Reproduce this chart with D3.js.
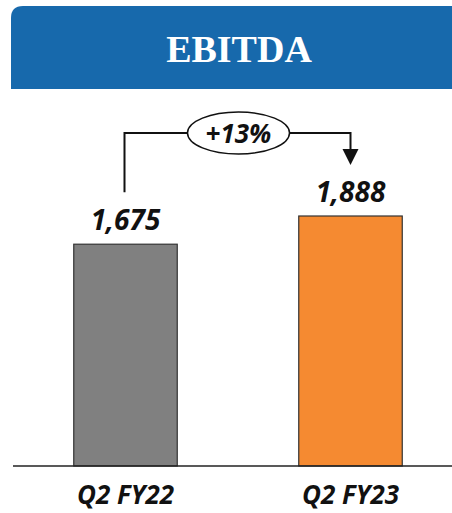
<!DOCTYPE html>
<html>
<head>
<meta charset="utf-8">
<script src="https://cdn.jsdelivr.net/npm/d3@7"></script>
<style>
  body { margin: 0; background: #fff; }
  svg { display: block; }
</style>
</head>
<body>
<div id="chart"></div>
<script>
const categories = ["Q2 FY22", "Q2 FY23"];
const values = [1675, 1888];
const barColors = ["#808080", "#F58A31"];
const growthLabel = "+13%";
const title = "EBITDA";

const width = 452, height = 513;
const svg = d3.select("#chart").append("svg")
  .attr("width", width).attr("height", height);

// header banner
svg.append("path")
  .attr("d", `M11,18 Q11,6 23,6 L452,6 L452,89 L11,89 Z`)
  .attr("fill", "#1769AC");
svg.append("text")
  .attr("x", 239).attr("y", 62)
  .attr("text-anchor", "middle")
  .attr("fill", "#fff")
  .style("font-family", "'Liberation Serif', 'DejaVu Serif', serif")
  .style("font-weight", "bold")
  .style("font-size", "38px")
  .text(title);

const x = d3.scaleBand()
  .domain(categories)
  .range([13, 463])
  .paddingInner(0.54)
  .paddingOuter(0.27);

const y = d3.scaleLinear()
  .domain([0, 1888])
  .range([466, 216]);

svg.selectAll("rect.bar")
  .data(values)
  .join("rect")
  .attr("class", "bar")
  .attr("x", (d, i) => x(categories[i]))
  .attr("y", d => y(d))
  .attr("width", x.bandwidth())
  .attr("height", d => y(0) - y(d))
  .attr("fill", (d, i) => barColors[i])
  .attr("stroke", "#333")
  .attr("stroke-width", 1.2);

// baseline
svg.append("line")
  .attr("x1", 13).attr("x2", 452)
  .attr("y1", y(0)).attr("y2", y(0))
  .attr("stroke", "#222").attr("stroke-width", 1.5);

const labelFont = "'Open Sans', 'DejaVu Sans', sans-serif";

svg.selectAll("text.val")
  .data(values)
  .join("text")
  .attr("class", "val")
  .attr("x", (d, i) => x(categories[i]) + x.bandwidth() / 2)
  .attr("y", d => y(d) - 14)
  .attr("text-anchor", "middle")
  .style("font-family", labelFont)
  .style("font-weight", "bold")
  .style("font-style", "italic")
  .style("font-size", "28px")
  .attr("fill", "#111")
  .text(d => d3.format(",")(d));

svg.selectAll("text.cat")
  .data(categories)
  .join("text")
  .attr("class", "cat")
  .attr("x", d => x(d) + x.bandwidth() / 2)
  .attr("y", 504)
  .attr("text-anchor", "middle")
  .style("font-family", labelFont)
  .style("font-weight", "bold")
  .style("font-style", "italic")
  .style("font-size", "26px")
  .attr("fill", "#111")
  .text(d => d);

// growth connector
const x0 = x(categories[0]) + x.bandwidth() / 2 - 1;
const x1 = x(categories[1]) + x.bandwidth() / 2;
const topY = 133;
const cx = (x0 + x1) / 2 + 1;
svg.append("path")
  .attr("d", `M${x0},${y(values[0]) - 52} L${x0},${topY} L${x1},${topY} L${x1},${y(values[1]) - 66}`)
  .attr("fill", "none")
  .attr("stroke", "#111")
  .attr("stroke-width", 2);
svg.append("path")
  .attr("d", `M${x1 - 8},${y(values[1]) - 67} L${x1 + 8},${y(values[1]) - 67} L${x1},${y(values[1]) - 51} Z`)
  .attr("fill", "#111");
svg.append("ellipse")
  .attr("cx", cx).attr("cy", topY)
  .attr("rx", 51).attr("ry", 21)
  .attr("fill", "#fff")
  .attr("stroke", "#111")
  .attr("stroke-width", 1.5);
svg.append("text")
  .attr("x", cx).attr("y", topY + 10)
  .attr("text-anchor", "middle")
  .style("font-family", labelFont)
  .style("font-weight", "bold")
  .style("font-style", "italic")
  .style("font-size", "26px")
  .attr("fill", "#111")
  .text(growthLabel);
</script>
</body>
</html>
